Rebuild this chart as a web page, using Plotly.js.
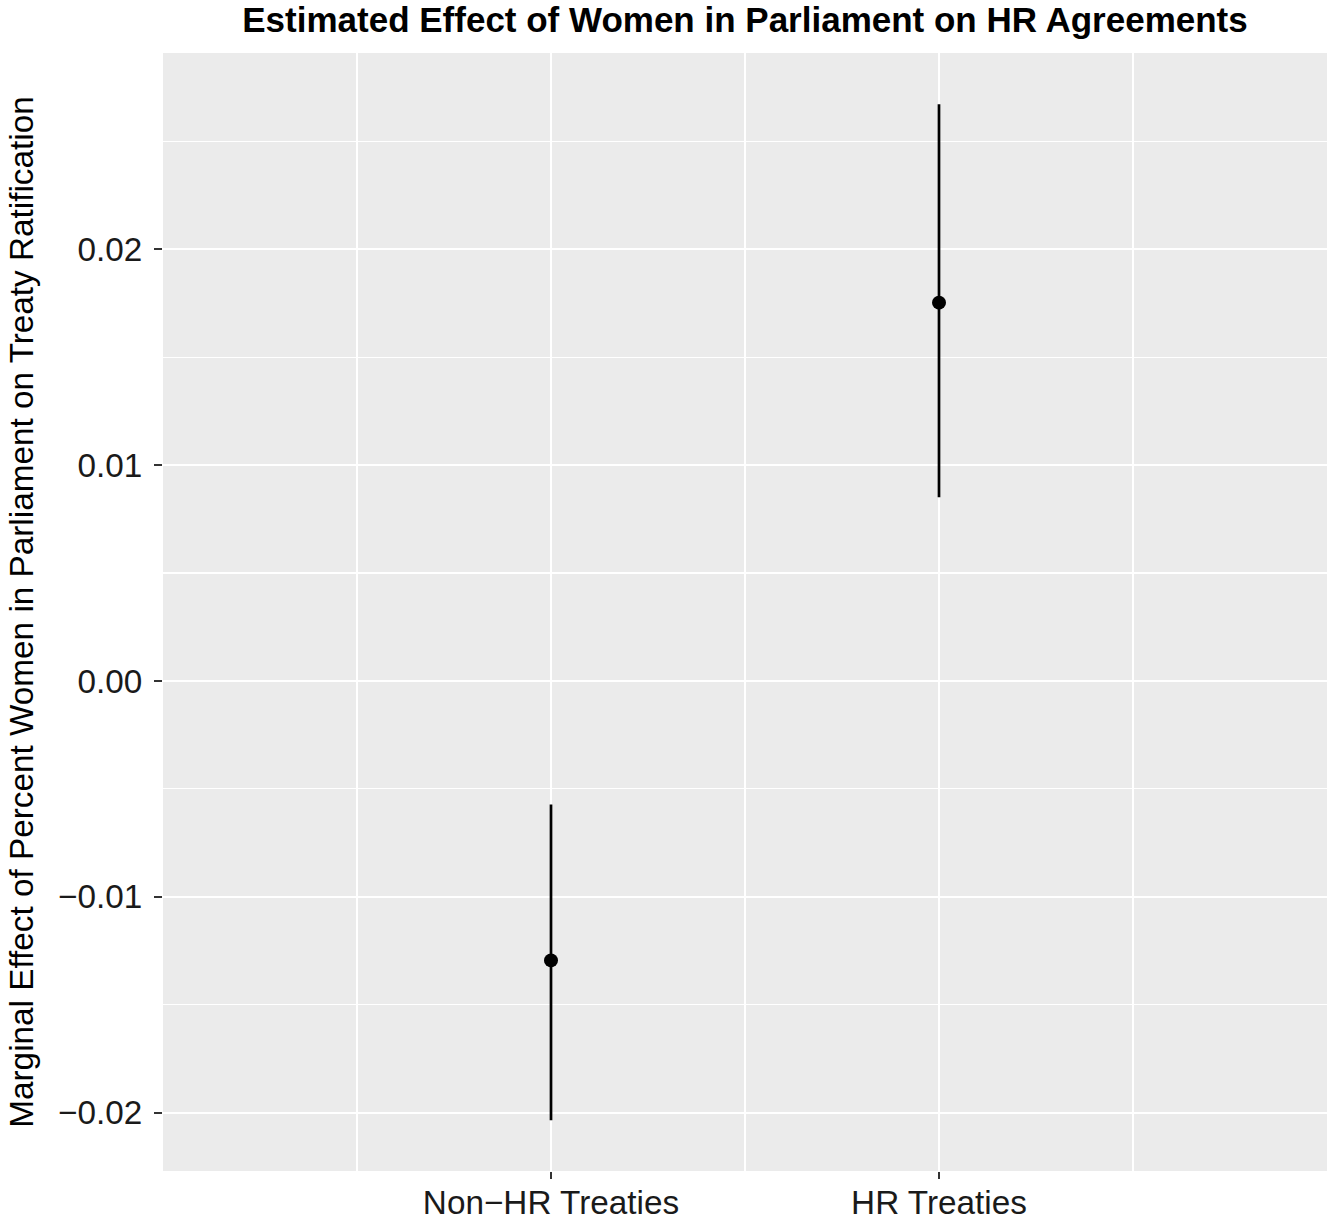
<!DOCTYPE html>
<html>
<head>
<meta charset="utf-8">
<script src="https://cdn.plot.ly/plotly-3.0.1.min.js"></script>
<style>html,body{margin:0;padding:0;background:#fff;}#chart{width:1329px;height:1230px;}</style>
</head>
<body>
<div id="chart"></div>
<script>
const categories = ["Non\u2212HR Treaties", "HR Treaties"];
const estimates = [-0.01295, 0.01753];
const upperBounds = [-0.00572, 0.02672];
const lowerBounds = [-0.02036, 0.00851];
const yTickVals = [-0.02, -0.01, 0.00, 0.01, 0.02];
const yTickLabels = ["\u22120.02", "\u22120.01", "0.00", "0.01", "0.02"];

const xPos = categories.map((c, i) => i);

const trace = {
  type: 'scatter',
  mode: 'markers',
  x: xPos,
  y: estimates,
  marker: {color: '#000000', size: 14},
  error_y: {
    type: 'data',
    symmetric: false,
    array: upperBounds.map((u, i) => u - estimates[i]),
    arrayminus: estimates.map((e, i) => e - lowerBounds[i]),
    color: '#000000',
    thickness: 2.7,
    width: 0
  },
  hoverinfo: 'skip',
  showlegend: false
};

const fontFam = '"Liberation Sans", Arial, Helvetica, sans-serif';

const layout = {
  width: 1329,
  height: 1230,
  paper_bgcolor: '#FFFFFF',
  plot_bgcolor: '#EBEBEB',
  margin: {l: 163, r: 2, t: 53, b: 59},
  font: {family: fontFam, color: '#000000'},
  title: {
    text: '<b>Estimated Effect of Women in Parliament on HR Agreements</b>',
    font: {family: fontFam, size: 35, color: '#000000'},
    x: 0.5, xref: 'paper', xanchor: 'center',
    y: 0.984, yref: 'container', yanchor: 'middle'
  },
  xaxis: {
    range: [-1, 2],
    tickmode: 'array',
    tickvals: xPos,
    ticktext: categories,
    ticks: 'outside', ticklen: 7, tickwidth: 2, tickcolor: '#333333',
    ticklabelstandoff: -5,
    tickfont: {family: fontFam, size: 33.3, color: '#1A1A1A'},
    showgrid: true, gridcolor: '#FFFFFF', gridwidth: 2,
    zeroline: false, showline: false,
    minor: {tickmode: 'array', tickvals: [-0.5, 0.5, 1.5], showgrid: true, gridcolor: '#FFFFFF', gridwidth: 1.2, ticks: ''},
    fixedrange: true
  },
  yaxis: {
    range: [-0.02271, 0.02910],
    tickmode: 'array',
    tickvals: yTickVals,
    ticktext: yTickLabels,
    ticks: 'outside', ticklen: 8, tickwidth: 2, tickcolor: '#333333',
    ticklabelstandoff: 5,
    tickfont: {family: fontFam, size: 33.3, color: '#1A1A1A'},
    showgrid: true, gridcolor: '#FFFFFF', gridwidth: 2,
    zeroline: false, showline: false,
    minor: {tickmode: 'array', tickvals: [-0.015, -0.005, 0.005, 0.015, 0.025], showgrid: true, gridcolor: '#FFFFFF', gridwidth: 1.2, ticks: ''},
    title: {
      text: 'Marginal Effect of Percent Women in Parliament on Treaty Ratification',
      font: {family: fontFam, size: 33.3, color: '#000000'},
      standoff: 14
    },
    fixedrange: true
  }
};

Plotly.newPlot('chart', [trace], layout, {displayModeBar: false, staticPlot: true});
</script>
</body>
</html>
